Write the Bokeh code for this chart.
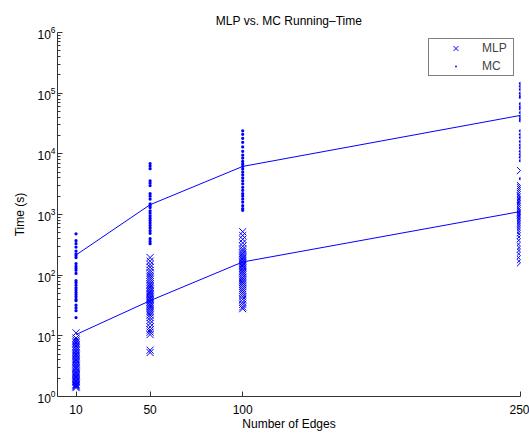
from bokeh.plotting import figure
from bokeh.models import (Range1d, FixedTicker, Legend, LegendItem)
from bokeh.embed import file_html
from bokeh.resources import INLINE

# ---------------- data ----------------
edges = [10, 50, 100, 250]
x_ticks = [10, 50, 100, 250]
y_ticks = [1, 10, 100, 1000, 10000, 100000, 1000000]

mlp_mean = [10.5, 38, 165, 1120]
mc_mean = [215, 1450, 6200, 43000]

mlp_10 = [1.4, 1.45, 1.5, 1.55, 1.6, 1.7, 1.75, 1.8, 1.9, 2.0, 2.1, 2.2, 2.3, 2.4, 2.5,
          2.6, 2.8, 2.9, 3.0, 3.2, 3.4, 3.6, 3.8, 4.0, 4.2, 4.5, 4.8, 5.0, 5.3, 5.6,
          6.0, 6.4, 6.8, 7.2, 7.6, 8.0, 8.5, 9.2, 11.2]
mlp_50 = [5.3, 5.8, 10.5, 11.5, 12.5, 14, 16, 18, 20, 22, 24, 26, 28, 30, 32, 34, 36,
          38, 40, 42, 45, 48, 50, 53, 56, 60, 64, 68, 72, 78, 85, 92, 100, 110, 120,
          135, 150, 170, 195]
mlp_100 = [28, 30, 33, 36, 40, 44, 48, 52, 56, 60, 65, 70, 75, 80, 86, 92, 100, 108,
           115, 122, 130, 138, 145, 152, 160, 170, 180, 190, 200, 215, 230, 250, 270,
           300, 340, 390, 450, 520]
mlp_250 = [5300, 3000, 2800, 2600, 2400, 2200, 2000, 1900, 1800, 1700, 1600, 1500, 1400,
           1300, 1200, 1150, 1100, 1050, 1000, 950, 900, 850, 800, 750, 700, 650, 600,
           550, 500, 450, 400, 350, 300, 270, 240, 210, 180, 160]

mc_10 = [480, 370, 330, 290, 250, 225, 210, 195, 155, 140, 130, 120, 107, 81, 75, 68,
         62, 57, 52, 48, 44, 40, 38, 32, 29, 26, 20]
mc_50 = [6900, 6300, 5700, 3600, 3300, 3000, 2200, 2000, 1800, 1500, 1400, 1300, 1150,
         1050, 950, 870, 800, 730, 660, 600, 540, 490, 400, 360, 330]
mc_100 = [24000, 21000, 18000, 15500, 13000, 11000, 9500, 8500, 7500, 6800, 6200, 5600,
          5000, 4500, 4000, 3600, 3200, 2800, 2500, 2200, 2000, 1800, 1600, 1400, 1250,
          1170]
mc_250 = [145000, 130000, 115000, 100000, 90000, 85000, 67000, 60000, 55000, 48000,
          42000, 38000, 35000, 24000, 21000, 18500, 16000, 14000, 12500, 11000, 9800,
          8800, 7700, 3900]

mlp_groups = [mlp_10, mlp_50, mlp_100, mlp_250]
mc_groups = [mc_10, mc_50, mc_100, mc_250]

mlp_x, mlp_y = [], []
for e, g in zip(edges, mlp_groups):
    mlp_x += [e] * len(g)
    mlp_y += g
mc_x, mc_y = [], []
for e, g in zip(edges, mc_groups):
    mc_x += [e] * len(g)
    mc_y += g

BLUE = "#0000ff"
FONT = "Liberation Sans"

p = figure(width=529, height=433, y_axis_type="log",
           x_range=Range1d(0, 250), y_range=Range1d(1, 1e6),
           output_backend="svg", toolbar_location=None,
           title="MLP vs. MC Running\u2013Time",
           min_border_left=57, min_border_right=9, min_border_top=32,
           min_border_bottom=37)

p.outline_line_color = None
p.xgrid.visible = False
p.ygrid.visible = False
p.background_fill_color = "white"
p.border_fill_color = "white"

p.title.align = "center"
p.title.text_font = FONT
p.title.text_font_size = "12px"
p.title.text_font_style = "normal"
p.title.text_color = "black"
p.title.standoff = 10

# lines of means
p.line(edges, mc_mean, line_color=BLUE, line_width=1)
p.line(edges, mlp_mean, line_color=BLUE, line_width=1)

r_mlp = p.scatter(mlp_x, mlp_y, marker="x", size=10, line_color=BLUE, line_width=1)
r_mc = p.scatter(mc_x, mc_y, marker="dot", size=13, line_color=BLUE, fill_color=BLUE)

# axes
xa = p.xaxis[0]
xa.ticker = FixedTicker(ticks=x_ticks, minor_ticks=[])
xa.axis_label = "Number of Edges"
ya = p.yaxis[0]
minor = []
for k in range(6):
    for m in range(2, 10):
        minor.append(m * 10 ** k)
ya.ticker = FixedTicker(ticks=y_ticks, minor_ticks=minor)
ya.axis_label = "Time (s)"

for ax in (xa, ya):
    ax.axis_line_color = "#333333"
    ax.axis_line_width = 1
    ax.major_tick_in = 5
    ax.major_tick_out = 0
    ax.minor_tick_in = 3
    ax.minor_tick_out = 0
    ax.major_tick_line_color = "#333333"
    ax.minor_tick_line_color = "#333333"
    ax.major_label_text_font = FONT
    ax.major_label_text_font_size = "12px"
    ax.major_label_text_color = "black"
    ax.axis_label_text_font = FONT
    ax.axis_label_text_font_size = "12px"
    ax.axis_label_text_font_style = "normal"
    ax.axis_label_text_color = "black"
xa.major_label_standoff = 8
xa.axis_label_standoff = 0
ya.major_label_standoff = 2
ya.axis_label_standoff = 7

legend = Legend(items=[LegendItem(label="MLP", renderers=[r_mlp]),
                       LegendItem(label="MC", renderers=[r_mc])],
                location="top_right", margin=6, padding=0, spacing=0,
                glyph_width=53, glyph_height=18, label_height=18,
                label_standoff=0, label_width=31,
                label_text_font=FONT, label_text_font_size="12px",
                border_line_color="black", border_line_width=1,
                background_fill_alpha=1.0)
p.add_layout(legend)

open("out.html", "w").write(file_html(p, INLINE))
